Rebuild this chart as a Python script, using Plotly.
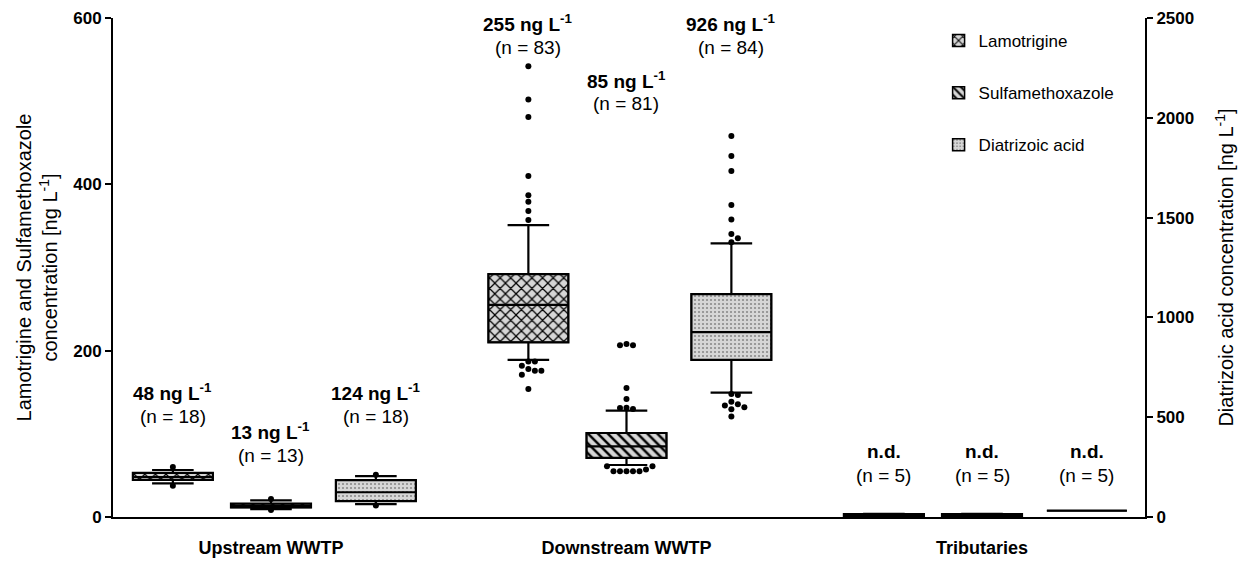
import plotly.graph_objects as go

# ---------------------------------------------------------------- data
groups = ["Upstream WWTP", "Downstream WWTP", "Tributaries"]
compounds = ["Lamotrigine", "Sulfamethoxazole", "Diatrizoic acid"]

# Lamotrigine [ng/L] per group: whisker ends, quartiles, median, outliers
lam_low = [40.5, 189, 1.0]
lam_q1 = [44.5, 210, 1.2]
lam_med = [48, 255, 2.0]
lam_q3 = [53, 292, 3.4]
lam_high = [56.5, 351, 3.8]
lam_out = [
    [60, 37.5],
    [542, 502, 481, 410, 387, 379, 368, 357, 187, 187, 182, 178, 176, 176, 171, 154],
    [],
]

# Sulfamethoxazole [ng/L]
sul_low = [9.5, 62.5, 1.0]
sul_q1 = [11.5, 71, 1.2]
sul_med = [13, 85, 2.0]
sul_q3 = [16, 101, 3.4]
sul_high = [20, 128, 3.8]
sul_out = [
    [21.5, 8.5],
    [208, 206.5, 206.5, 155, 142, 131.5, 130, 131, 55, 55, 55, 55, 55, 57, 61, 61],
    [],
]

# Diatrizoic acid [ng/L] (right axis)
dia_low = [65, 623, 31.5]
dia_q1 = [80, 787, 31.5]
dia_med = [124, 926, 31.5]
dia_q3 = [185, 1117, 31.5]
dia_high = [205, 1371, 31.5]
dia_out = [
    [212, 58],
    [1909, 1809, 1733, 1563, 1490, 1418, 1396, 1376, 616, 611, 578, 565, 558, 550, 540, 503],
    [],
]

# median labels and sample sizes
lam_label = ["48", "255", "n.d."]
sul_label = ["13", "85", "n.d."]
dia_label = ["124", "926", "n.d."]
lam_n = [18, 83, 5]
sul_n = [13, 81, 5]
dia_n = [18, 84, 5]

# ---------------------------------------------------------------- layout constants
W, H = 1248, 563
M = dict(l=113, r=103, t=18, b=46)
X_RANGE = [-0.4444, 2.4585]
Y_MAX, Y2_MAX = 600, 2500
OFFSETS = [-0.276, 0.0, 0.295]       # position of each compound inside a group
BOX_W = 0.225
LABEL_Y = [[121, 565, 50], [74, 497, 50], [121, 565, 50]]  # left-axis units
LINE_GAP = 24

plot_w = W - M["l"] - M["r"]
plot_h = H - M["t"] - M["b"]
px_x = plot_w / (X_RANGE[1] - X_RANGE[0])
px_y = plot_h / Y_MAX
px_y2 = plot_h / Y2_MAX

FONT = "Arial, Liberation Sans, sans-serif"
FILL = "#d6d6d6"

styles = [
    dict(shape="x", fgcolor="black", size=7.5, solidity=0.3),
    dict(shape="\\", fgcolor="black", size=7, solidity=0.35),
    dict(shape=".", fgcolor="#8a8a8a", size=4, solidity=0.22),
]


def swarm(values, scale, d=6.5):
    """Horizontal pixel offsets so that dots of diameter d do not overlap."""
    placed, offs = [], []
    cands = [0] + [s * i for i in range(1, 30) for s in (1, -1)]
    for v in values:
        yv = v * scale
        for c in cands:
            xo = c * d
            if all((xo - a) ** 2 + (yv - b) ** 2 >= 0.9 * d * d for a, b in placed):
                break
        placed.append((xo, yv))
        offs.append(xo)
    return offs


series = [
    (lam_low, lam_q1, lam_med, lam_q3, lam_high, lam_out, lam_label, lam_n, "y", px_y),
    (sul_low, sul_q1, sul_med, sul_q3, sul_high, sul_out, sul_label, sul_n, "y", px_y),
    (dia_low, dia_q1, dia_med, dia_q3, dia_high, dia_out, dia_label, dia_n, "y2", px_y2),
]

fig = go.Figure()
annotations = []

for ci, (low, q1, med, q3, high, outs, labels, ns, yax, scale) in enumerate(series):
    xs = [g + OFFSETS[ci] for g in range(len(groups))]
    st = styles[ci]
    # patterned interquartile fill
    fig.add_trace(go.Bar(
        x=xs, base=q1, y=[b - a for a, b in zip(q1, q3)], width=BOX_W,
        yaxis=yax, name=compounds[ci], legendgroup=compounds[ci],
        marker=dict(color=FILL, line=dict(color="black", width=1.5),
                    pattern=dict(shape=st["shape"], fgcolor=st["fgcolor"], bgcolor=FILL,
                                 size=st["size"], solidity=st["solidity"], fillmode="replace")),
        hoverinfo="skip",
    ))
    # box outline, median and whiskers
    fig.add_trace(go.Box(
        x=xs, q1=q1, median=med, q3=q3, lowerfence=low, upperfence=high,
        width=BOX_W, whiskerwidth=0.52, yaxis=yax, boxpoints=False,
        line=dict(color="black", width=2.2), fillcolor="rgba(0,0,0,0)",
        showlegend=False, legendgroup=compounds[ci],
    ))
    # outliers
    ox, oy = [], []
    for g, vals in enumerate(outs):
        for v, o in zip(vals, swarm(vals, scale)):
            ox.append(xs[g] + o / px_x)
            oy.append(v)
    fig.add_trace(go.Scatter(
        x=ox, y=oy, mode="markers", yaxis=yax, showlegend=False,
        marker=dict(color="black", size=6), hoverinfo="skip",
    ))
    # labels
    for g in range(len(groups)):
        lab = labels[g]
        top = "<b>n.d.</b>" if lab == "n.d." else f"<b>{lab} ng L<sup>-1</sup></b>"
        annotations.append(dict(x=xs[g], y=LABEL_Y[ci][g], xref="x", yref="y",
                                text=f"(n = {ns[g]})", showarrow=False,
                                font=dict(size=19)))
        annotations.append(dict(x=xs[g], y=LABEL_Y[ci][g], xref="x", yref="y",
                                yshift=LINE_GAP, text=top, showarrow=False,
                                font=dict(size=19)))

axis_common = dict(showline=True, linecolor="black", linewidth=2, showgrid=False,
                   zeroline=False, ticks="outside", ticklen=6, tickwidth=2,
                   tickcolor="black", tickfont=dict(size=17, weight="bold"),
                   automargin=False)

fig.update_layout(
    width=W, height=H, margin=M,
    plot_bgcolor="white", paper_bgcolor="white",
    font=dict(family=FONT, color="black", size=17),
    barmode="overlay",
    annotations=annotations,
    xaxis=dict(range=X_RANGE, tickvals=list(range(len(groups))),
               ticktext=[f"<b>{g}</b>" for g in groups],
               showline=True, linecolor="black", linewidth=2, showgrid=False,
               zeroline=False, ticks="", ticklabelstandoff=13,
               tickfont=dict(size=18), automargin=False),
    yaxis=dict(range=[0, Y_MAX], tickvals=[0, 200, 400, 600], **axis_common,
               title=dict(text="Lamotrigine and Sulfamethoxazole<br>concentration [ng L<sup>-1</sup>]",
                          font=dict(size=20), standoff=10)),
    yaxis2=dict(range=[0, Y2_MAX], tickvals=[0, 500, 1000, 1500, 2000, 2500],
                overlaying="y", side="right", **axis_common,
                title=dict(text="Diatrizoic acid concentration [ng L<sup>-1</sup>]",
                           font=dict(size=20), standoff=26)),
    legend=dict(x=0.80, y=0.99, xanchor="left", yanchor="top",
                traceorder="grouped", tracegroupgap=27,
                font=dict(size=17), bgcolor="rgba(0,0,0,0)", itemwidth=30),
)

fig.write_html("out.html")
